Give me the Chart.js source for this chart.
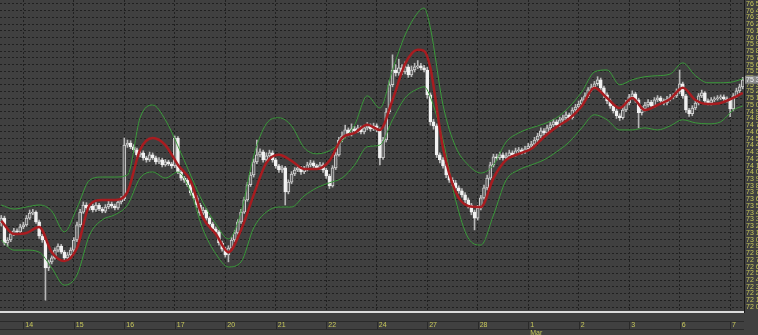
<!DOCTYPE html>
<html>
<head>
<meta charset="utf-8">
<script src="https://cdn.jsdelivr.net/npm/chart.js@4"></script>
<style>
  html, body { margin: 0; padding: 0; background: #404040; overflow: hidden; }
</style>
</head>
<body>
<canvas id="grafico" width="758" height="335"></canvas>
<script>
// eixo X: uma barra por índice, 16 barras por dia
const diasPos = [7, 23, 39, 55, 71, 87, 103, 119, 135, 151, 167, 183, 199, 215, 231];
const diasRotulos = ['14', '15', '16', '17', '20', '21', '22', '24', '27', '28', ['1', 'Mar'], '2', '3', '6', '7'];

// velas (OHLC)
const aberturas = [73250,
  73320, 72950, 72995, 73085, 73130, 73115, 73190,
  73220, 73320, 73395, 73410, 73265, 73055, 72995, 72580, 72670, 72730, 72845, 72905, 72815, 72730, 72775, 72845,
  72995, 73220, 73410, 73515, 73470, 73500, 73440, 73515, 73455, 73425, 73485, 73530, 73500, 73470, 73560, 73605,
  74405, 74435, 74380, 74335, 74260, 74290, 74215, 74185, 74260, 74215, 74155, 74185, 74110, 74155, 74125, 74095,
  74510, 74005, 73915, 73885, 73815, 73695, 73620, 73515, 73395, 73440, 73320, 73235, 73160, 73115, 72950, 72860,
  72775, 72875, 72995, 73100, 73265, 73410, 73590, 73815, 73960, 74155, 74260, 74305, 74185, 74245, 74290, 74185,
  74095, 74035, 74065, 73710, 73855, 73975, 74035, 74065, 74005, 74050, 74110, 74140, 74095, 74065, 74110, 74035,
  73945, 73800, 74065, 74260, 74480, 74540, 74630, 74570, 74645, 74615, 74660, 74600, 74660, 74690, 74645, 74690,
  74630, 74215, 74480, 74900, 75300, 75520, 75475, 75550, 75490, 75565, 75445, 75520, 75565, 75580, 75550, 75520,
  75150, 74750, 74690, 74260, 74185, 74095, 73960, 73885, 73845, 73770, 73725, 73665, 73590, 73515, 73410, 73320,
  73470, 73620, 73770, 73915, 74110, 74230, 74215, 74260, 74215, 74245, 74290, 74260, 74320, 74335, 74305, 74350,
  74390, 74420, 74480, 74540, 74615, 74585, 74660, 74705, 74750, 74705, 74780, 74810, 74855, 74810, 74925, 74970,
  75015, 75075, 75135, 75225, 75270, 75315, 75375, 75255, 75150, 75060, 74985, 74915, 74840, 74810, 74925, 75030,
  75120, 75165, 75075, 74885, 74940, 75000, 75045, 74985, 75075, 75105, 75060, 75030, 75090, 75120, 75135, 75195,
  75315, 75135, 74925, 74870, 74955, 75030, 75135, 75180, 75060, 75030, 75075, 75090, 75105, 75120, 75090, 75075,
  74940, 75135, 75210, 75270];

const fechamentos = [
  73320, 72950, 72995, 73085, 73130, 73115, 73190,
  73220, 73320, 73395, 73410, 73265, 73055, 72995, 72580, 72670, 72730, 72845, 72905, 72815, 72730, 72775, 72845,
  72995, 73220, 73410, 73515, 73470, 73500, 73440, 73515, 73455, 73425, 73485, 73530, 73500, 73470, 73560, 73605,
  74405, 74435, 74380, 74335, 74260, 74290, 74215, 74185, 74260, 74215, 74155, 74185, 74110, 74155, 74125, 74095,
  74510, 74005, 73915, 73885, 73815, 73695, 73620, 73515, 73395, 73440, 73320, 73235, 73160, 73115, 72950, 72860,
  72775, 72875, 72995, 73100, 73265, 73410, 73590, 73815, 73960, 74155, 74260, 74305, 74185, 74245, 74290, 74185,
  74095, 74035, 74065, 73710, 73855, 73975, 74035, 74065, 74005, 74050, 74110, 74140, 74095, 74065, 74110, 74035,
  73945, 73800, 74065, 74260, 74480, 74540, 74630, 74570, 74645, 74615, 74660, 74600, 74660, 74690, 74645, 74690,
  74630, 74215, 74480, 74900, 75300, 75520, 75475, 75550, 75490, 75565, 75445, 75520, 75565, 75580, 75550, 75520,
  75150, 74750, 74690, 74260, 74185, 74095, 73960, 73885, 73845, 73770, 73725, 73665, 73590, 73515, 73410, 73320,
  73470, 73620, 73770, 73915, 74110, 74230, 74215, 74260, 74215, 74245, 74290, 74260, 74320, 74335, 74305, 74350,
  74390, 74420, 74480, 74540, 74615, 74585, 74660, 74705, 74750, 74705, 74780, 74810, 74855, 74810, 74925, 74970,
  75015, 75075, 75135, 75225, 75270, 75315, 75375, 75255, 75150, 75060, 74985, 74915, 74840, 74810, 74925, 75030,
  75120, 75165, 75075, 74885, 74940, 75000, 75045, 74985, 75075, 75105, 75060, 75030, 75090, 75120, 75135, 75195,
  75315, 75135, 74925, 74870, 74955, 75030, 75135, 75180, 75060, 75030, 75075, 75090, 75105, 75120, 75090, 75075,
  74940, 75135, 75210, 75270, 75375];

const maximas = [
  73360, 73350, 73030, 73120, 73170, 73160, 73230,
  73260, 73360, 73440, 73450, 73430, 73290, 73080, 73020, 72700, 72760, 72880, 72940, 72930, 72840, 72810, 72880,
  73030, 73260, 73450, 73560, 73550, 73530, 73530, 73550, 73540, 73480, 73520, 73570, 73560, 73530, 73600, 73640,
  74510, 74480, 74470, 74410, 74360, 74330, 74320, 74240, 74300, 74290, 74240, 74220, 74210, 74190, 74180, 74150,
  74540, 74530, 74030, 73940, 73910, 73840, 73720, 73650, 73540, 73480, 73460, 73340, 73260, 73190, 73140, 72980,
  72890, 72910, 73030, 73140, 73300, 73450, 73630, 73850, 74000, 74200, 74480, 74350, 74330, 74290, 74330, 74320,
  74210, 74120, 74100, 74090, 73890, 74010, 74070, 74100, 74090, 74090, 74150, 74180, 74170, 74120, 74150, 74140,
  74060, 73970, 74100, 74300, 74520, 74600, 74700, 74660, 74720, 74680, 74700, 74690, 74700, 74740, 74720, 74730,
  74720, 74660, 74520, 74950, 75360, 75745, 75600, 75680, 75600, 75640, 75600, 75580, 75620, 75660, 75620, 75590,
  75560, 75180, 74790, 74720, 74290, 74220, 74120, 73990, 73920, 73880, 73800, 73760, 73700, 73620, 73540, 73440,
  73510, 73660, 73810, 73960, 74150, 74270, 74270, 74300, 74290, 74290, 74330, 74320, 74360, 74370, 74360, 74390,
  74430, 74460, 74520, 74580, 74660, 74650, 74700, 74740, 74790, 74780, 74820, 74850, 74900, 74880, 74960, 75010,
  75060, 75110, 75180, 75260, 75310, 75350, 75420, 75400, 75280, 75180, 75090, 75010, 74940, 74870, 74960, 75070,
  75160, 75210, 75190, 75100, 74980, 75040, 75080, 75070, 75110, 75140, 75130, 75090, 75130, 75160, 75170, 75240,
  75520, 75340, 75160, 74950, 74990, 75070, 75170, 75220, 75200, 75090, 75110, 75120, 75140, 75150, 75150, 75120,
  75100, 75170, 75250, 75310, 75410];

const minimas = [
  73200, 72920, 72900, 72970, 73060, 73080, 73090,
  73160, 73200, 73300, 73370, 73240, 73020, 72960, 72100, 72540, 72640, 72710, 72820, 72790, 72700, 72700, 72750,
  72820, 72970, 73190, 73390, 73440, 73440, 73410, 73420, 73430, 73400, 73400, 73460, 73470, 73440, 73450, 73530,
  73580, 74370, 74350, 74300, 74230, 74230, 74180, 74150, 74160, 74190, 74120, 74130, 74080, 74090, 74100, 74060,
  74070, 73980, 73880, 73850, 73790, 73660, 73590, 73480, 73360, 73370, 73290, 73200, 73130, 73080, 72920, 72830,
  72740, 72670, 72850, 72970, 73080, 73240, 73390, 73570, 73790, 73930, 74130, 74230, 74150, 74160, 74220, 74150,
  74060, 74000, 74000, 73515, 73680, 73830, 73950, 74010, 73970, 73980, 74020, 74080, 74070, 74040, 74040, 74000,
  73910, 73760, 73780, 74040, 74240, 74450, 74510, 74540, 74540, 74580, 74590, 74570, 74570, 74630, 74610, 74620,
  74600, 74110, 74190, 74450, 74870, 75270, 75430, 75440, 75450, 75460, 75410, 75420, 75490, 75540, 75520, 75490,
  75100, 74700, 74640, 74220, 74140, 74060, 73920, 73850, 73800, 73730, 73690, 73630, 73550, 73470, 73370, 73145,
  73290, 73440, 73600, 73740, 73890, 74080, 74180, 74190, 74180, 74190, 74220, 74230, 74240, 74290, 74270, 74280,
  74320, 74360, 74390, 74450, 74510, 74550, 74560, 74630, 74680, 74670, 74680, 74750, 74780, 74780, 74790, 74900,
  74940, 74990, 75050, 75110, 75200, 75240, 75290, 75220, 75110, 75020, 74950, 74880, 74800, 74770, 74790, 74900,
  75000, 75090, 75040, 74660, 74850, 74910, 74970, 74950, 74960, 75050, 75030, 75000, 75000, 75060, 75090, 75110,
  75170, 75100, 74890, 74830, 74840, 74930, 75000, 75110, 75030, 75000, 75000, 75050, 75070, 75080, 75060, 75040,
  74825, 74910, 75110, 75180, 75240];

// Bandas de Bollinger (posição em barras)
const posBandas = [0, 4, 8, 12, 16, 20, 24, 28, 32, 36, 40, 44, 48, 52, 56, 60, 64, 68, 72, 76, 80, 84, 88, 92, 96,
  100, 104, 108, 112, 116, 120, 124, 128, 132, 134, 136, 140, 144, 148, 152, 156, 160, 164, 168, 172, 176, 180,
  184, 188, 192, 196, 200, 204, 208, 212, 216, 220, 224, 228, 232, 235];

const mediaMovel = [73280, 73085, 73100, 73190, 72815, 72685, 72875, 73515, 73590, 73590, 73710, 74335, 74510, 74405,
  74110, 73870, 73320, 73085, 72815, 73145, 73665, 74140, 74260, 74170, 74050, 74050, 74170, 74510, 74585, 74705,
  74630, 75075, 75610, 75820, 75805, 75550, 74365, 73710, 73500, 73485, 73915, 74185, 74275, 74350, 74525, 74675,
  74795, 74985, 75255, 75105, 74955, 75105, 74925, 75000, 75090, 75255, 75075, 75015, 75030, 75105, 75180];

const bandaSuperior = [73515, 73455, 73485, 73515, 73425, 73115, 73470, 73885, 73930, 73930, 73960, 74810, 75000, 74780,
  74390, 73960, 73545, 73235, 73010, 73410, 74245, 74720, 74810, 74690, 74365, 74275, 74320, 74465, 74705, 75135,
  74955, 75520, 76040, 76370, 76440, 76145, 75000, 74380, 74110, 73990, 74110, 74450, 74585, 74660, 74720, 74810,
  74970, 75195, 75490, 75520, 75300, 75375, 75420, 75435, 75460, 75625, 75435, 75330, 75330, 75345, 75390];

const bandaInferior = [72995, 72845, 72845, 72815, 72580, 72325, 72475, 73070, 73295, 73370, 73515, 73915, 74005, 73915,
  74005, 73710, 73145, 72790, 72595, 72670, 73175, 73410, 73485, 73485, 73650, 73770, 73845, 73915, 74110, 74380,
  74405, 74780, 75105, 75240, 75270, 75120, 74480, 73590, 73025, 72920, 73365, 73885, 74035, 74110, 74185, 74305,
  74450, 74660, 74855, 74780, 74630, 74630, 74660, 74630, 74690, 74780, 74735, 74720, 74750, 74925, 74985];

// rótulos do eixo de preço, de 100 em 100
const ticksY = [];
for (let v = 72000; v <= 76500; v += 100) ticksY.push(v);

function formatarPreco(v) {
  let mil = Math.floor(v / 1000);
  let resto = String(Math.round(v % 1000)).padStart(3, '0');
  return mil + ' ' + resto;
}

// montando pavios e corpos das velas
let dadosPavio = [];
let dadosCorpo = [];
let coresCorpo = [];
let bordasCorpo = [];
for (let i = 0; i < fechamentos.length; i++) {
  dadosPavio.push({ x: i, y: [minimas[i], maximas[i]] });
  dadosCorpo.push({ x: i, y: [aberturas[i], fechamentos[i]] });
  if (fechamentos[i] >= aberturas[i]) {
    coresCorpo.push('#5e5e5e');
    bordasCorpo.push('#d2d2d2');
  } else {
    coresCorpo.push('#f2f2f2');
    bordasCorpo.push('#f2f2f2');
  }
}

function linhaBanda(valores) {
  return posBandas.map((x, i) => ({ x: x, y: valores[i] }));
}

// fundo cinza escuro
const fundo = {
  id: 'fundo',
  beforeDraw(chart) {
    const ctx = chart.ctx;
    ctx.save();
    ctx.fillStyle = '#404040';
    ctx.fillRect(0, 0, chart.width, chart.height);
    ctx.restore();
  }
};

// faixa das datas e rótulo do último preço
const extras = {
  id: 'extras',
  afterDraw(chart) {
    const ctx = chart.ctx;
    const sx = chart.scales.x;
    const sy = chart.scales.y;
    ctx.save();
    ctx.strokeStyle = '#2a2a2a';
    ctx.lineWidth = 1;
    ctx.beginPath();
    ctx.moveTo(0, 321.5); ctx.lineTo(sx.right, 321.5);
    ctx.moveTo(0, 329.5); ctx.lineTo(sx.right, 329.5);
    for (let i = 0; i < sx.ticks.length; i++) {
      let px = Math.round(sx.getPixelForTick(i)) + 0.5;
      ctx.moveTo(px, 321); ctx.lineTo(px, 330);
    }
    ctx.stroke();

    let ultimo = fechamentos[fechamentos.length - 1];
    let py = sy.getPixelForValue(ultimo);
    ctx.fillStyle = '#8a8a8a';
    ctx.fillRect(sy.left + 1, py - 4, chart.width - sy.left, 8);
    ctx.fillStyle = '#f4f4f4';
    ctx.font = '7px "Liberation Sans"';
    ctx.textBaseline = 'middle';
    ctx.fillText(formatarPreco(ultimo), sy.left + 2, py);
    ctx.restore();
  }
};

const corTexto = '#c8c85a';
const fonteEixo = { size: 7, family: '"Liberation Sans", sans-serif', lineHeight: 1.15 };

const config = {
  type: 'bar',
  data: {
    datasets: [
      {
        type: 'line', data: linhaBanda(mediaMovel), borderColor: '#a81c20', borderWidth: 2.5,
        pointRadius: 0, cubicInterpolationMode: 'monotone', order: 0
      },
      {
        type: 'line', data: linhaBanda(bandaSuperior), borderColor: '#3a9a3a', borderWidth: 1,
        pointRadius: 0, cubicInterpolationMode: 'monotone', order: 0
      },
      {
        type: 'line', data: linhaBanda(bandaInferior), borderColor: '#3a9a3a', borderWidth: 1,
        pointRadius: 0, cubicInterpolationMode: 'monotone', order: 0
      },
      {
        data: dadosCorpo, backgroundColor: coresCorpo, borderColor: bordasCorpo, borderWidth: 1,
        borderSkipped: false, barThickness: 3, minBarLength: 1, grouped: false, order: 1
      },
      {
        data: dadosPavio, backgroundColor: '#b8b8b8', borderWidth: 0,
        barThickness: 1, grouped: false, order: 2
      }
    ]
  },
  options: {
    responsive: false,
    animation: false,
    layout: { padding: 0 },
    plugins: { legend: { display: false }, tooltip: { enabled: false } },
    scales: {
      x: {
        type: 'linear', min: -0.4, max: 235.4, offset: false,
        afterBuildTicks: (s) => { s.ticks = diasPos.map(v => ({ value: v })); },
        afterFit: (s) => { s.height = 23; s.paddingLeft = 0; s.paddingRight = 0; },
        grid: { offset: false, color: '#202020', lineWidth: 1, drawTicks: false },
        border: { display: true, color: '#dcdcdc', width: 2, dash: [2, 2] },
        ticks: {
          autoSkip: false, maxRotation: 0, align: 'start', labelOffset: 2, padding: 9,
          color: corTexto, font: fonteEixo,
          callback: (v, i) => diasRotulos[i]
        }
      },
      y: {
        position: 'right', min: 71926, max: 76559,
        afterBuildTicks: (s) => { s.ticks = ticksY.map(v => ({ value: v })); },
        afterFit: (s) => { s.width = 14; s.paddingTop = 0; s.paddingBottom = 0; },
        grid: { color: '#202020', lineWidth: 1, drawTicks: false },
        border: { display: true, color: '#161616', width: 1, dash: [2, 2] },
        ticks: {
          autoSkip: false, padding: 2, color: corTexto, font: fonteEixo,
          callback: (v) => formatarPreco(v)
        }
      }
    }
  },
  plugins: [fundo, extras]
};

let grafico = new Chart(document.getElementById('grafico'), config);
</script>
</body>
</html>
